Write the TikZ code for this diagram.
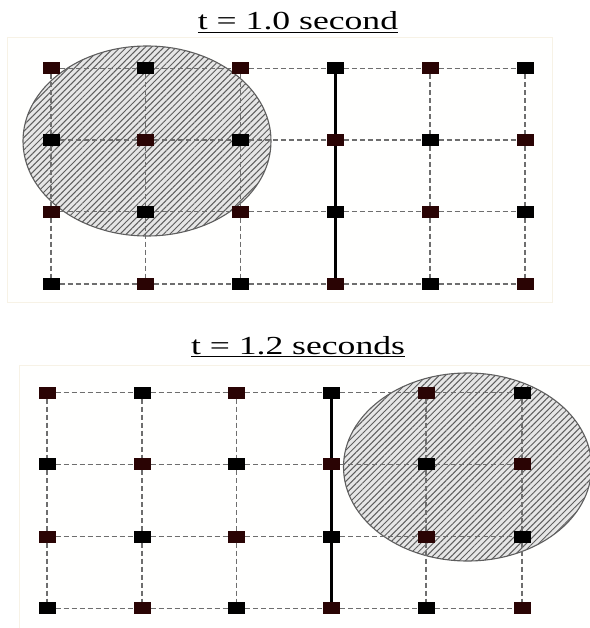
\documentclass[tikz,border=0pt]{standalone}
\usepackage{fontspec}
\setmainfont{Liberation Serif}
\usetikzlibrary{patterns.meta}
\definecolor{brn}{HTML}{2A0404}
\definecolor{gridc}{HTML}{6E6E6E}
\definecolor{panelbd}{HTML}{F7F2E6}
\definecolor{panelbg}{HTML}{FFFFFE}
\definecolor{hatchbg}{HTML}{E6E6E6}
\definecolor{hatchln}{HTML}{5E5E5E}
\tikzset{
  sqk/.style={rectangle, fill=black, minimum width=17pt, minimum height=12pt, inner sep=0pt, outer sep=0pt},
  sqr/.style={sqk, fill=brn},
  gline/.style={draw=gridc, dash pattern=on 5pt off 3pt, line width=1.5pt},
  barline/.style={draw=black, line width=2.8pt},
  panel/.style={fill=panelbg, draw=panelbd, line width=1pt},
  hatch/.style={draw=hatchln, line width=1.1pt, fill=hatchbg,
    postaction={pattern={Lines[angle=45,distance=4.4pt,line width=1pt]}, pattern color=hatchln}},
  ttl/.style={inner sep=0pt, xscale=1.37, font=\fontsize{26}{28}\selectfont, anchor=base}
}
\begin{document}
\begin{tikzpicture}[x=1pt,y=-1pt]
\useasboundingbox (0,0) rectangle (589,628);
\fill[white] (0,0) rectangle (589,628);

% ---------- top panel ----------
\node[ttl] (t1) at (298,30) {\underline{t = 1.0 second}};
\path[panel] (7,38) rectangle (552,302);
\path[hatch] (147,141) ellipse [x radius=124pt, y radius=95pt];

\foreach \c [count=\i] in {51,145.7,240.3,335.3,430,525} {
  \foreach \r [count=\j] in {68.3,140,211.7,284} {
    \pgfmathtruncatemacro{\pty}{mod(\i+\j,2)}
    \ifnum\pty=0
      \node[sqr] (T-\i-\j) at (\c,\r) {};
    \else
      \node[sqk] (T-\i-\j) at (\c,\r) {};
    \fi
  }
}
\foreach \i [evaluate=\i as \ii using int(\i+1)] in {1,...,5} {
  \foreach \j in {1,...,4} {
    \draw[gline] (T-\i-\j) -- (T-\ii-\j);
  }
}
\foreach \i in {1,2,3,5,6} {
  \foreach \j [evaluate=\j as \jj using int(\j+1)] in {1,2,3} {
    \draw[gline] (T-\i-\j) -- (T-\i-\jj);
  }
}
\draw[barline] (T-4-1) -- (T-4-2);
\draw[barline] (T-4-2) -- (T-4-3);
\draw[barline] (T-4-3) -- (T-4-4);

% ---------- bottom panel ----------
\node[ttl] (t2) at (298,354) {\underline{t = 1.2 seconds}};
\path[panel] (19.5,365) rectangle (600,640);
\path[hatch] (467.5,467) ellipse [x radius=124pt, y radius=94pt];

\foreach \c [count=\i] in {47,142,236.5,331.5,426,522} {
  \foreach \r [count=\j] in {392.7,464.3,536.7,608.3} {
    \pgfmathtruncatemacro{\pty}{mod(\i+\j,2)}
    \ifnum\pty=0
      \node[sqr] (B-\i-\j) at (\c,\r) {};
    \else
      \node[sqk] (B-\i-\j) at (\c,\r) {};
    \fi
  }
}
\foreach \i [evaluate=\i as \ii using int(\i+1)] in {1,...,5} {
  \foreach \j in {1,...,4} {
    \draw[gline] (B-\i-\j) -- (B-\ii-\j);
  }
}
\foreach \i in {1,2,3,5,6} {
  \foreach \j [evaluate=\j as \jj using int(\j+1)] in {1,2,3} {
    \draw[gline] (B-\i-\j) -- (B-\i-\jj);
  }
}
\draw[barline] (B-4-1) -- (B-4-2);
\draw[barline] (B-4-2) -- (B-4-3);
\draw[barline] (B-4-3) -- (B-4-4);
\end{tikzpicture}
\end{document}
